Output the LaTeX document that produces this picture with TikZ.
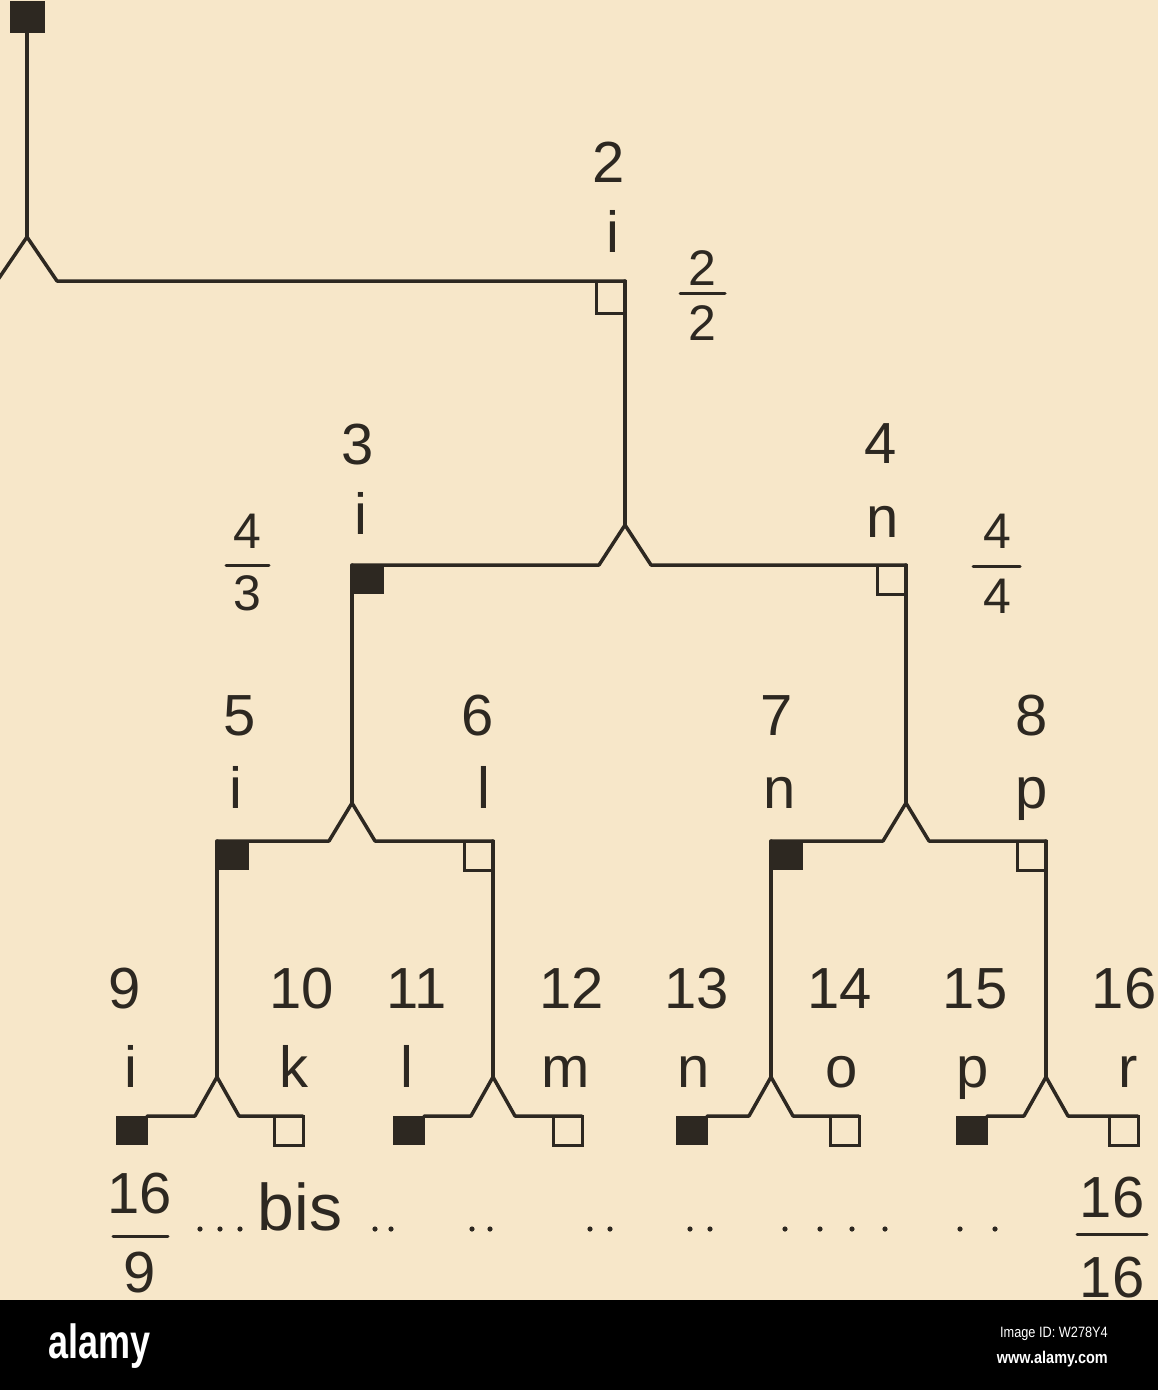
\documentclass[tikz,border=0pt]{standalone}
\usepackage{fontspec}
\setmainfont{Liberation Sans}
\usetikzlibrary{calc}
\definecolor{paper}{RGB}{247,231,201}
\definecolor{ink}{RGB}{45,40,33}
\begin{document}
\begin{tikzpicture}[x=1pt,y=-1pt,
  ln/.style={draw=ink,line width=3.5pt,line cap=round,line join=round},
  bar/.style={draw=ink,line width=3pt,line cap=round},
  fsq/.style={draw=ink,fill=ink,line width=1pt,minimum width=31pt,minimum height=28pt,inner sep=0pt,outer sep=0pt},
  osq/.style={draw=ink,fill=none,line width=3pt,minimum width=29pt,minimum height=29pt,inner sep=0pt,outer sep=0pt},
  lab/.style={text=ink,font=\fontsize{58}{60}\selectfont,anchor=base,inner sep=0pt},
  frc/.style={text=ink,font=\fontsize{50}{52}\selectfont,anchor=base,inner sep=0pt},
  dotm/.style={fill=ink}
]
\useasboundingbox (0,0) rectangle (1158,1390);
\clip (0,0) rectangle (1158,1390);
\fill[paper] (0,0) rectangle (1158,1390);

% ---------- coordinates ----------
\coordinate (c0) at (-40,281);
\coordinate (p1) at (27,237); \coordinate (a1) at (-3,281); \coordinate (b1) at (57,281);
\coordinate (c2) at (625,281);
\coordinate (p2) at (625,525); \coordinate (a2) at (599,565); \coordinate (b2) at (651,565);
\coordinate (c3) at (352,565); \coordinate (c4) at (906,565);
\coordinate (p3) at (352,803); \coordinate (a3) at (329,841); \coordinate (b3) at (375,841);
\coordinate (p4) at (906,803); \coordinate (a4) at (883,841); \coordinate (b4) at (929,841);
\coordinate (c5) at (217,841); \coordinate (c6) at (493,841);
\coordinate (c7) at (771,841); \coordinate (c8) at (1046,841);
\coordinate (p5) at (217,1077); \coordinate (a5) at (195,1116); \coordinate (b5) at (239,1116);
\coordinate (p6) at (493,1077); \coordinate (a6) at (471,1116); \coordinate (b6) at (515,1116);
\coordinate (p7) at (771,1077); \coordinate (a7) at (749,1116); \coordinate (b7) at (793,1116);
\coordinate (p8) at (1046,1077); \coordinate (a8) at (1024,1116); \coordinate (b8) at (1068,1116);
\coordinate (c9) at (147,1116); \coordinate (c10) at (303,1116);
\coordinate (c11) at (424,1116); \coordinate (c12) at (582,1116);
\coordinate (c13) at (707,1116); \coordinate (c14) at (859,1116);
\coordinate (c15) at (987,1116); \coordinate (c16) at (1138,1116);

% ---------- root ----------
\node[fsq,minimum width=34pt,minimum height=31pt] (s1) at (27,17) {};
\draw[ln] (s1.south) -- (p1);
\draw[ln] (c0) -- (a1) -- (p1) -- (b1) -- (c2);

% ---------- connectors ----------
\draw[ln] (c2) -- (p2);
\draw[ln] (c3) -- (a2) -- (p2) -- (b2) -- (c4);
\draw[ln] (c3) -- (p3);
\draw[ln] (c5) -- (a3) -- (p3) -- (b3) -- (c6);
\draw[ln] (c4) -- (p4);
\draw[ln] (c7) -- (a4) -- (p4) -- (b4) -- (c8);
\draw[ln] (c5) -- (p5);
\draw[ln] (c9) -- (a5) -- (p5) -- (b5) -- (c10);
\draw[ln] (c6) -- (p6);
\draw[ln] (c11) -- (a6) -- (p6) -- (b6) -- (c12);
\draw[ln] (c7) -- (p7);
\draw[ln] (c13) -- (a7) -- (p7) -- (b7) -- (c14);
\draw[ln] (c8) -- (p8);
\draw[ln] (c15) -- (a8) -- (p8) -- (b8) -- (c16);

% ---------- squares ----------
\node[osq,anchor=north east,minimum height=32pt] (s2) at (c2) {};
\node[fsq,anchor=north west] (s3) at (c3) {};
\node[osq,anchor=north east] (s4) at (c4) {};
\node[fsq,anchor=north west] (s5) at (c5) {};
\node[osq,anchor=north east] (s6) at (c6) {};
\node[fsq,anchor=north west] (s7) at (c7) {};
\node[osq,anchor=north east] (s8) at (c8) {};
\node[fsq,anchor=north east] (s9) at (c9) {};
\node[osq,anchor=north east] (s10) at (c10) {};
\node[fsq,anchor=north east] (s11) at (c11) {};
\node[osq,anchor=north east] (s12) at (c12) {};
\node[fsq,anchor=north east] (s13) at (c13) {};
\node[osq,anchor=north east] (s14) at (c14) {};
\node[fsq,anchor=north east] (s15) at (c15) {};
\node[osq,anchor=north east] (s16) at (c16) {};

% ---------- labels ----------
\node[lab] (n2) at (609,182) {2};   \node[lab] (t2) at (613,252) {i};
\node[lab] (n3) at (358,464) {3};   \node[lab] (t3) at (361,534) {i};
\node[lab] (n4) at (881,463) {4};   \node[lab] (t4) at (883,537) {n};
\node[lab] (n5) at (240,735) {5};   \node[lab] (t5) at (236,808) {i};
\node[lab] (n6) at (478,735) {6};   \node[lab] (t6) at (484,808) {l};
\node[lab] (n7) at (777,735) {7};   \node[lab] (t7) at (780,808) {n};
\node[lab] (n8) at (1032,735) {8};  \node[lab] (t8) at (1032,808) {p};
\node[lab] (n9) at (125,1008) {9};    \node[lab] (t9) at (131,1087) {i};
\node[lab] (n10) at (302,1008) {10};  \node[lab] (t10) at (294,1087) {k};
\node[lab] (n11) at (417,1008) {11};  \node[lab] (t11) at (407,1087) {l};
\node[lab] (n12) at (572,1008) {12};  \node[lab] (t12) at (566,1087) {m};
\node[lab] (n13) at (697,1008) {13};  \node[lab] (t13) at (694,1087) {n};
\node[lab] (n14) at (840,1008) {14};  \node[lab] (t14) at (842,1087) {o};
\node[lab] (n15) at (975,1008) {15};  \node[lab] (t15) at (973,1087) {p};
\node[lab] (n16) at (1124,1008) {16}; \node[lab] (t16) at (1128,1087) {r};

% ---------- fractions ----------
\node[frc] (f2n) at (702,285) {2}; \node[frc] (f2d) at (702,340) {2};
\draw[bar] (680,293) -- (725,293);
\node[frc] (f3n) at (247,548) {4}; \node[frc] (f3d) at (247,610) {3};
\draw[bar] (226,565) -- (269,565);
\node[frc] (f4n) at (997,548) {4}; \node[frc] (f4d) at (997,613) {4};
\draw[bar] (973,566) -- (1020,566);

% ---------- bottom row ----------
\node[lab] (b9n) at (140,1213) {16}; \node[lab] (b9d) at (140,1292) {9};
\draw[bar] (113,1236) -- (168,1236);
\node[lab,font=\fontsize{66}{68}\selectfont] (bis) at (300,1230) {bis};
\node[lab] (b16n) at (1112,1217) {16}; \node[lab] (b16d) at (1112,1297) {16};
\draw[bar] (1077,1234) -- (1147,1234);
\foreach \x in {200,220,240,375,391,472,490,590,610,690,710,785,820,852,885,960,995}
  \fill[dotm] (\x,1229) circle (2.6);

% ---------- footer ----------
\fill[black] (0,1300) rectangle (1158,1390);
\node[anchor=base west,text=white,inner sep=0pt,font=\bfseries\fontsize{48}{50}\selectfont] (logo) at (48,1358) {\scalebox{0.75}[1]{alamy}};
\node[anchor=base east,text=white,inner sep=0pt,font=\fontsize{15}{16}\selectfont] (imgid) at (1108,1337) {\scalebox{0.85}[1]{Image ID: W278Y4}};
\node[anchor=base east,text=white,inner sep=0pt,font=\bfseries\fontsize{17}{18}\selectfont] (web) at (1108,1363) {\scalebox{0.85}[1]{www.alamy.com}};
\end{tikzpicture}
\end{document}
